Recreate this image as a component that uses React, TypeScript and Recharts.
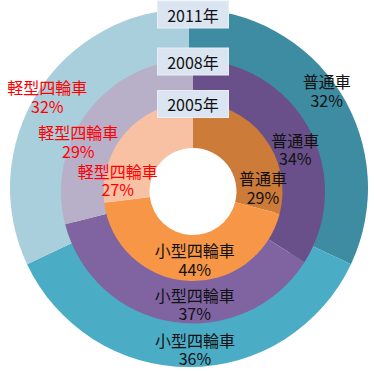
import { PieChart, Pie, Cell } from "recharts";

// categories, clockwise from 12 o'clock
const categories = ["普通車", "小型四輪車", "軽型四輪車"];

// share (%) per year
const year2005 = [29, 44, 27];
const year2008 = [34, 37, 29];
const year2011 = [32, 36, 32];

const yearLabels = ["2005年", "2008年", "2011年"];

const innerColors = ["#CC7B38", "#F79646", "#F9C1A3"];
const middleColors = ["#69508A", "#8064A2", "#B8AFC9"];
const outerColors = ["#3D8CA1", "#4BACC6", "#A9CEDC"];
const labelColors = ["#111", "#111", "#FF0000"];

const W = 374;
const H = 371;
const CX = 193;
const CY = 191.5;
const FONT = "'Noto Sans CJK JP', 'Noto Sans', sans-serif";
const RAD = Math.PI / 180;

// Excel moved the labels off the slice centres; per-ring nudges (dx, dy)
const nudges: Record<string, [number, number][]> = {
  outer: [[6, -14], [6, 5], [-10, -8]],
  middle: [[5, 11], [19, 3], [-27, 18]],
  inner: [[17, 37], [6, 1], [-25, 33]],
};

const toRows = (vals: number[]) => categories.map((name, i) => ({ name, value: vals[i] }));

function makeLabel(ring: string, labelR: number) {
  return (props: any) => {
    const { cx, cy, midAngle, index, name, value } = props;
    const [dx, dy] = nudges[ring][index];
    const x = cx + labelR * Math.cos(-midAngle * RAD) + dx;
    const y = cy + labelR * Math.sin(-midAngle * RAD) + dy;
    const common = {
      x,
      textAnchor: "middle" as const,
      dominantBaseline: "central" as const,
      fill: labelColors[index],
      fontSize: 16,
      fontFamily: FONT,
    };
    return (
      <g>
        <text {...common} y={y - 9.3}>{name}</text>
        <text {...common} y={y + 9.3}>{value}%</text>
      </g>
    );
  };
}

const ringTops = [89.5, 132, 179];

// series name boxes, drawn over the chart
function YearBoxes() {
  return (
    <svg width={W} height={H} style={{ position: "absolute", left: 0, top: 0, pointerEvents: "none" }}>
      {yearLabels.map((t, i) => {
        const y = CY - ringTops[i] + 2;
        return (
          <g key={t}>
            <rect x={CX - 35.5} y={y - 13.5} width={71} height={27} fill="#DBE5F1" stroke="#E8EEF6" strokeWidth={1} />
            <text x={CX} y={y} textAnchor="middle" dominantBaseline="central" fontSize={16} fontFamily={FONT} fill="#111">
              {t}
            </text>
          </g>
        );
      })}
    </svg>
  );
}

export default function App() {
  return (
    <div style={{ position: "absolute", left: 0, top: 0, width: W, height: H, background: "#fff" }}>
      <PieChart width={W} height={H} margin={{ top: 0, right: 0, bottom: 0, left: 0 }}>
        <Pie
          data={toRows(year2011)}
          dataKey="value"
          nameKey="name"
          cx={CX - 4}
          cy={CY - 3.5}
          innerRadius={120}
          outerRadius={179}
          startAngle={90}
          endAngle={-270}
          stroke="none"
          labelLine={false}
          label={makeLabel("outer", 156)}
          isAnimationActive={false}
        >
          {outerColors.map((c, i) => <Cell key={i} fill={c} />)}
        </Pie>
        <Pie
          data={toRows(year2008)}
          dataKey="value"
          nameKey="name"
          cx={CX}
          cy={CY}
          innerRadius={85}
          outerRadius={132}
          startAngle={90}
          endAngle={-270}
          stroke="none"
          labelLine={false}
          label={makeLabel("middle", 111)}
          isAnimationActive={false}
        >
          {middleColors.map((c, i) => <Cell key={i} fill={c} />)}
        </Pie>
        <Pie
          data={toRows(year2005)}
          dataKey="value"
          nameKey="name"
          cx={CX}
          cy={CY}
          innerRadius={43.5}
          outerRadius={89.5}
          startAngle={90}
          endAngle={-270}
          stroke="none"
          labelLine={false}
          label={makeLabel("inner", 67)}
          isAnimationActive={false}
        >
          {innerColors.map((c, i) => <Cell key={i} fill={c} />)}
        </Pie>
      </PieChart>
      <YearBoxes />
    </div>
  );
}
